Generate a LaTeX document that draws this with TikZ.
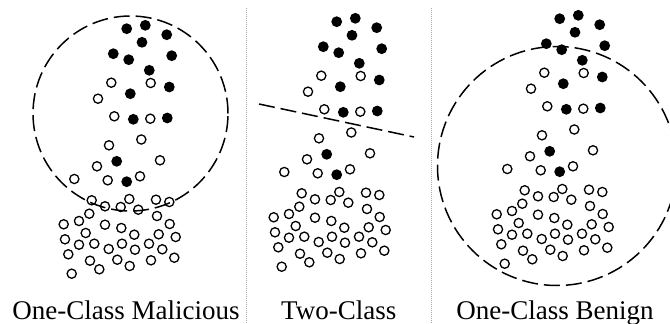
\documentclass[tikz,border=0pt]{standalone}
\usepackage{fontspec}
\setmainfont{Liberation Serif}
\begin{document}
\begin{tikzpicture}[x=1pt,y=-1pt,
  benign/.style={draw=black,line width=1.3pt},
  malicious/.style={fill=black},
  boundary/.style={draw=black,line width=1.5pt,dash pattern=on 16pt off 6pt},
  divider/.style={draw=gray!70,line width=0.8pt,dash pattern=on 1pt off 1pt},
  caption/.style={font=\fontsize{27}{30}\selectfont,anchor=base,inner sep=0pt}]
\useasboundingbox (0,0) rectangle (670,324);
\clip (0,0) rectangle (670,324);

% sample layout, shared by all three panels
\def\maliciouspts{336.7/21.7, 355.3/18.3, 376.7/27.7, 352/35.3, 323.3/46.7,
  338.7/52.7, 381.7/48.7, 359.3/63.3, 340.3/86.7, 379.3/80, 343.3/112.3,
  377.3/111, 326.7/154.3, 336.7/174.7}
\def\benignpts{321.3/75.7, 360.7/76, 308/91.7, 324.3/109.3, 360.3/111.7,
  351.3/132.5, 319/138.3, 307/159.3, 370/153.3, 284.3/172, 317.7/173.3,
  350/169.3,
  301.7/193.3, 315/199.3, 330.7/200, 339.3/192, 348.3/202.7, 366/192.7,
  379.3/195, 299.3/206.7, 289/214, 273.7/217.3, 315/217.7, 331.3/221,
  367/209, 379.7/217, 295.7/226, 344.3/227.7, 368.7/227.3, 385.7/230,
  275/232.3, 289/237.7, 304.3/236.7, 318.7/242, 332/236.7, 345/242.7,
  359/236.7, 372.3/242.3, 278.3/247.3, 300/253.7, 309.3/262.3, 327.3/252.7,
  339.7/259, 361/253.3, 384.3/250.7, 281.7/266.7}

% decision boundaries
\draw[boundary] (130.5,113.5) circle[radius=97.5pt];
\coordinate (cutA) at (259,104);
\coordinate (cutB) at (414,137);
\draw[boundary] (cutA) -- (cutB);
\draw[boundary] (557,166) circle[radius=119.5pt];

% samples in each panel
\foreach \dx/\dy in {-210/7, 0/0, 223/-3} {
  \begin{scope}[shift={(\dx,\dy)}]
    \foreach \px/\py in \maliciouspts
      \fill[malicious] (\px,\py) circle[radius=5.4pt];
    \foreach \px/\py in \benignpts
      \draw[benign] (\px,\py) circle[radius=4.6pt];
  \end{scope}
}

% panel separators
\coordinate (sepAtop) at (246.5,8);
\coordinate (sepAbot) at (246.5,324);
\coordinate (sepBtop) at (431,8);
\coordinate (sepBbot) at (431,324);
\draw[divider] (sepAtop) -- (sepAbot);
\draw[divider] (sepBtop) -- (sepBbot);

% captions
\node[caption] (capL) at (126,319) {One-Class Malicious};
\node[caption] (capM) at (338.7,319) {Two-Class};
\node[caption] (capR) at (555,319) {One-Class Benign};
\end{tikzpicture}
\end{document}
